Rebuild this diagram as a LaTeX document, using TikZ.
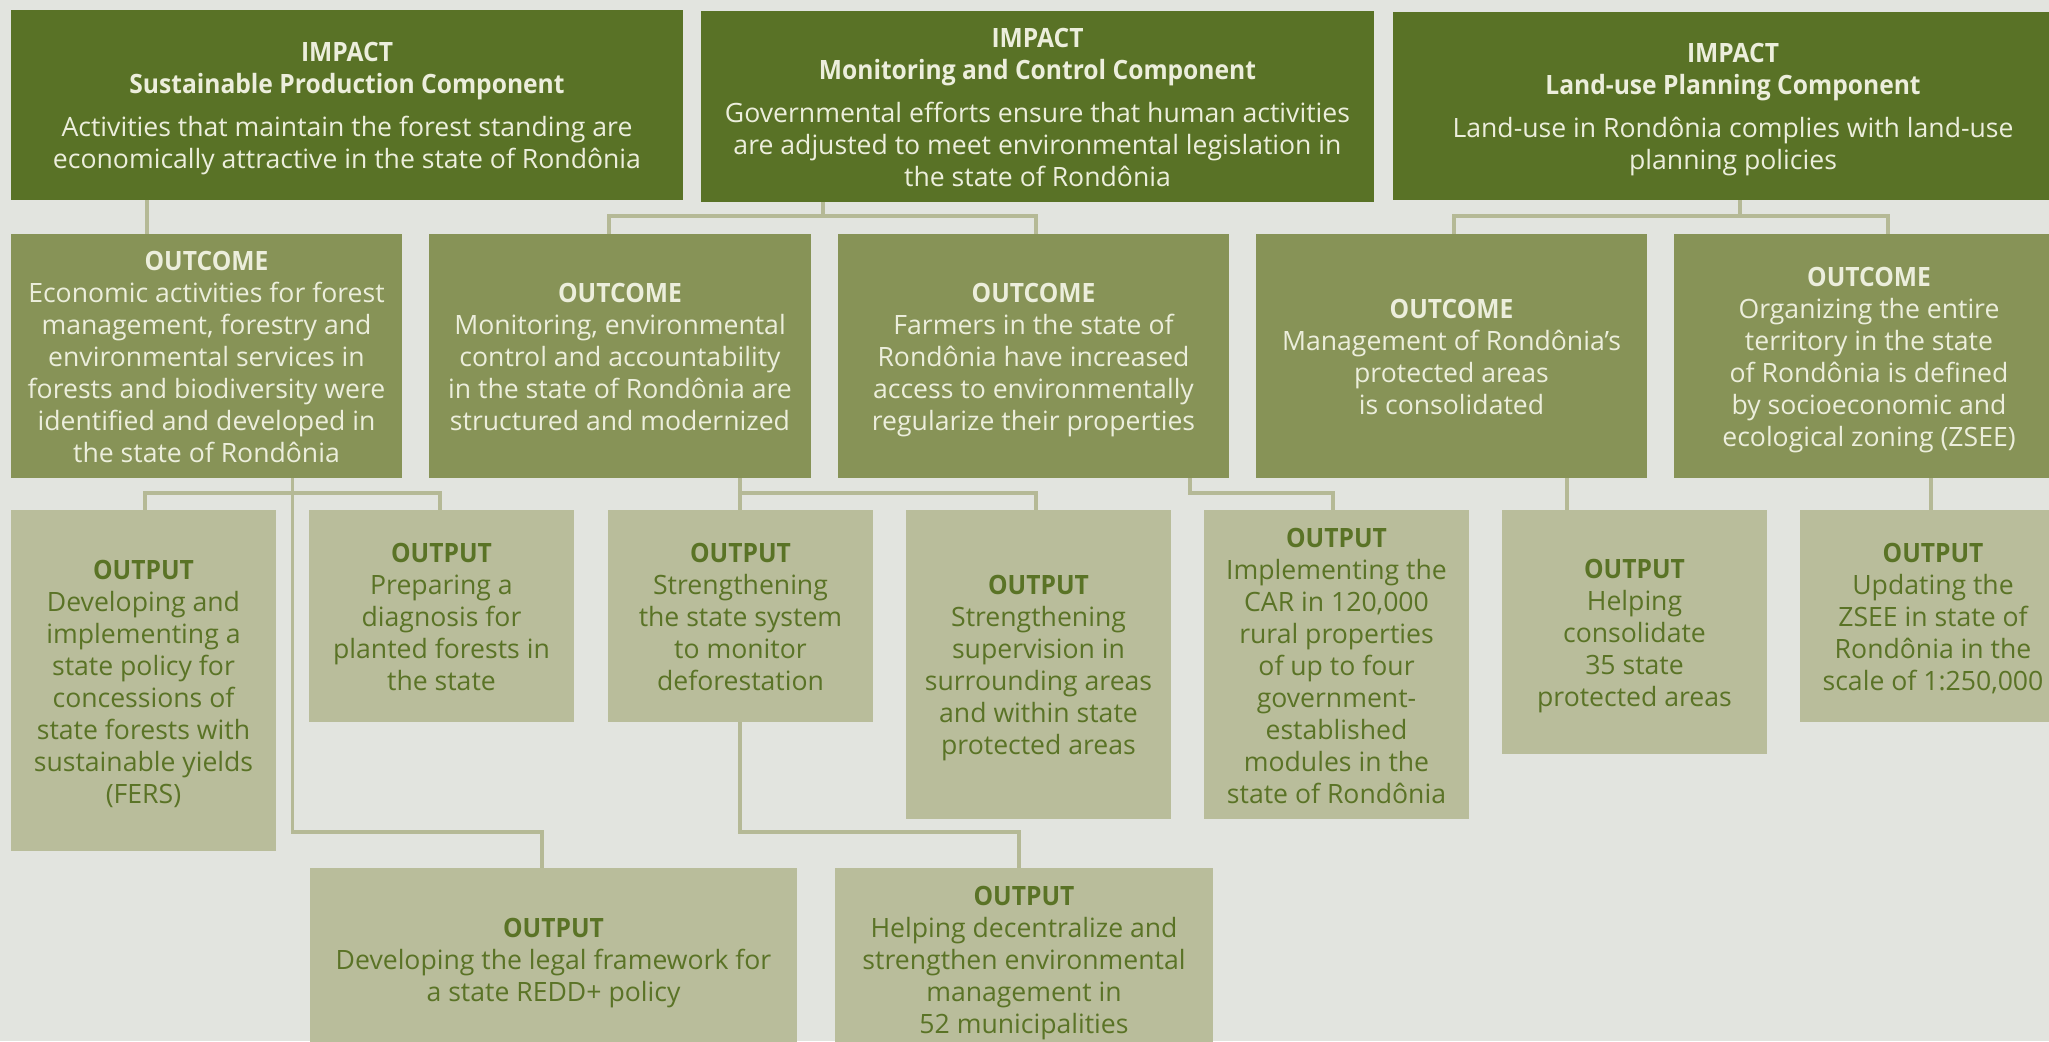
\documentclass[tikz,border=0pt]{standalone}
\usepackage{fontspec}
\setmainfont{Open Sans}
\newfontfamily\bfcond{Open Sans}[FakeStretch=0.925]
\newcommand{\hd}[1]{{\bfcond\bfseries #1}}
\newcommand{\topstrut}{\rule{0pt}{19pt}}
\newcommand{\botstrut}{\rule[-2.8pt]{0pt}{2.8pt}}
\definecolor{bgc}{HTML}{E2E4DF}
\definecolor{impc}{HTML}{597226}
\definecolor{outcc}{HTML}{879357}
\definecolor{outpc}{HTML}{B9BD9B}
\definecolor{linec}{HTML}{B5B996}
\definecolor{lighttxt}{HTML}{ECEEDC}
\definecolor{darktxt}{HTML}{5A7326}
% box node + text node
\newcommand{\bx}[7]{%
  \node[#2, minimum width=#5, minimum height=#6] (#1) at (#3,#4) {};
  \node[#2 text] (#1t) at ([yshift=-2pt]#1.center) {#7};}
\begin{document}
\begin{tikzpicture}[x=0.5pt,y=-0.5pt,
  basebox/.style={rectangle, inner sep=0pt},
  basetext/.style={rectangle, inner sep=0pt, align=center, font=\fontsize{13.3}{16}\selectfont,
    execute at begin node=\topstrut, execute at end node=\botstrut},
  impactbox/.style={basebox, fill=impc},
  outcomebox/.style={basebox, fill=outcc},
  outputbox/.style={basebox, fill=outpc},
  impactbox text/.style={basetext, text=lighttxt},
  outcomebox text/.style={basetext, text=lighttxt},
  outputbox text/.style={basetext, text=darktxt},
  conn/.style={draw=linec, line width=1.65pt}]
\useasboundingbox (0,0) rectangle (2049,1041);
\clip (0,0) rectangle (2049,1041);
\fill[bgc] (0,0) rectangle (2049,1041);

% IMPACT row
\bx{I1}{impactbox}{347}{105}{336pt}{95pt}
 {\hd{IMPACT}\\\hd{Sustainable Production Component}\\[5.5pt]Activities that maintain the forest standing are\\economically attractive in the state of Rondônia}
\bx{I2}{impactbox}{1037.5}{106.5}{336.5pt}{95.5pt}
 {\hd{IMPACT}\\\hd{Monitoring and Control Component}\\[5.5pt]Governmental efforts ensure that human activities\\are adjusted to meet environmental legislation in\\the state of Rondônia}
\bx{I3}{impactbox}{1733}{106}{340pt}{94pt}
 {\hd{IMPACT}\\\hd{Land-use Planning Component}\\[5.5pt]Land-use in Rondônia complies with land-use\\planning policies}

% OUTCOME row
\bx{O1}{outcomebox}{206.5}{356}{195.5pt}{122pt}
 {\hd{OUTCOME}\\Economic activities for forest\\management, forestry and\\environmental services in\\forests and biodiversity were\\identified and developed in\\the state of Rondônia}
\bx{O2}{outcomebox}{620}{356}{191pt}{122pt}
 {\hd{OUTCOME}\\Monitoring, environmental\\control and accountability\\in the state of Rondônia are\\structured and modernized}
\bx{O3}{outcomebox}{1033.5}{356}{195.5pt}{122pt}
 {\hd{OUTCOME}\\Farmers in the state of\\Rondônia have increased\\access to environmentally\\regularize their properties}
\bx{O4}{outcomebox}{1451.5}{356}{195.5pt}{122pt}
 {\hd{OUTCOME}\\Management of Rondônia’s\\protected areas\\is consolidated}
\bx{O5}{outcomebox}{1869}{356}{195pt}{122pt}
 {\hd{OUTCOME}\\Organizing the entire\\territory in the state\\of Rondônia is defined\\by socioeconomic and\\ecological zoning (ZSEE)}

% OUTPUT row
\bx{P1}{outputbox}{143.5}{680.5}{132.5pt}{170.5pt}
 {\hd{OUTPUT}\\Developing and\\implementing a\\state policy for\\concessions of\\state forests with\\sustainable yields\\(FERS)}
\bx{P2}{outputbox}{441.5}{616}{132.5pt}{106pt}
 {\hd{OUTPUT}\\Preparing a\\diagnosis for\\planted forests in\\the state}
\bx{P3}{outputbox}{740.5}{616}{132.5pt}{106pt}
 {\hd{OUTPUT}\\Strengthening\\the state system\\to monitor\\deforestation}
\bx{P4}{outputbox}{1038.5}{664.5}{132.5pt}{154.5pt}
 {\hd{OUTPUT}\\Strengthening\\supervision in\\surrounding areas\\and within state\\protected areas}
\bx{P5}{outputbox}{1336.5}{664.5}{132.5pt}{154.5pt}
 {\hd{OUTPUT}\\Implementing the\\CAR in 120,000\\rural properties\\of up to four\\government-\\established\\modules in the\\state of Rondônia}
\bx{P6}{outputbox}{1634.5}{632}{132.5pt}{122pt}
 {\hd{OUTPUT}\\Helping\\consolidate\\35 state\\protected areas}
\bx{P7}{outputbox}{1933}{616}{133pt}{106pt}
 {\hd{OUTPUT}\\Updating the\\ZSEE in state of\\Rondônia in the\\scale of 1:250,000}
\bx{P8}{outputbox}{553.5}{959}{243.5pt}{91pt}
 {\hd{OUTPUT}\\Developing the legal framework for\\a state REDD+ policy}
\bx{P9}{outputbox}{1024}{959}{189pt}{91pt}
 {\hd{OUTPUT}\\Helping decentralize and\\strengthen environmental\\management in\\52 municipalities}

% connectors
\draw[conn] (147,0 |- I1.south) -- (147,0 |- O1.north);
\draw[conn] (823,0 |- I2.south) -- (823,216);
\draw[conn] (609,0 |- O2.north) -- (609,216) -- (1036,216) -- (1036,0 |- O3.north);
\draw[conn] (1740,0 |- I3.south) -- (1740,216);
\draw[conn] (1454,0 |- O4.north) -- (1454,216) -- (1888,216) -- (1888,0 |- O5.north);

\draw[conn] (292.7,0 |- O1.south) -- (292.7,832) -- (542,832) -- (542,0 |- P8.north);
\draw[conn] (145,0 |- P1.north) -- (145,493) -- (440,493) -- (440,0 |- P2.north);

\draw[conn] (740,0 |- O2.south) -- (740,0 |- P3.north);
\draw[conn] (740,493) -- (1036,493) -- (1036,0 |- P4.north);
\draw[conn] (740,0 |- P3.south) -- (740,832) -- (1019,832) -- (1019,0 |- P9.north);

\draw[conn] (1190,0 |- O3.south) -- (1190,493) -- (1333,493) -- (1333,0 |- P5.north);
\draw[conn] (1567,0 |- O4.south) -- (1567,0 |- P6.north);
\draw[conn] (1931,0 |- O5.south) -- (1931,0 |- P7.north);
\end{tikzpicture}
\end{document}
